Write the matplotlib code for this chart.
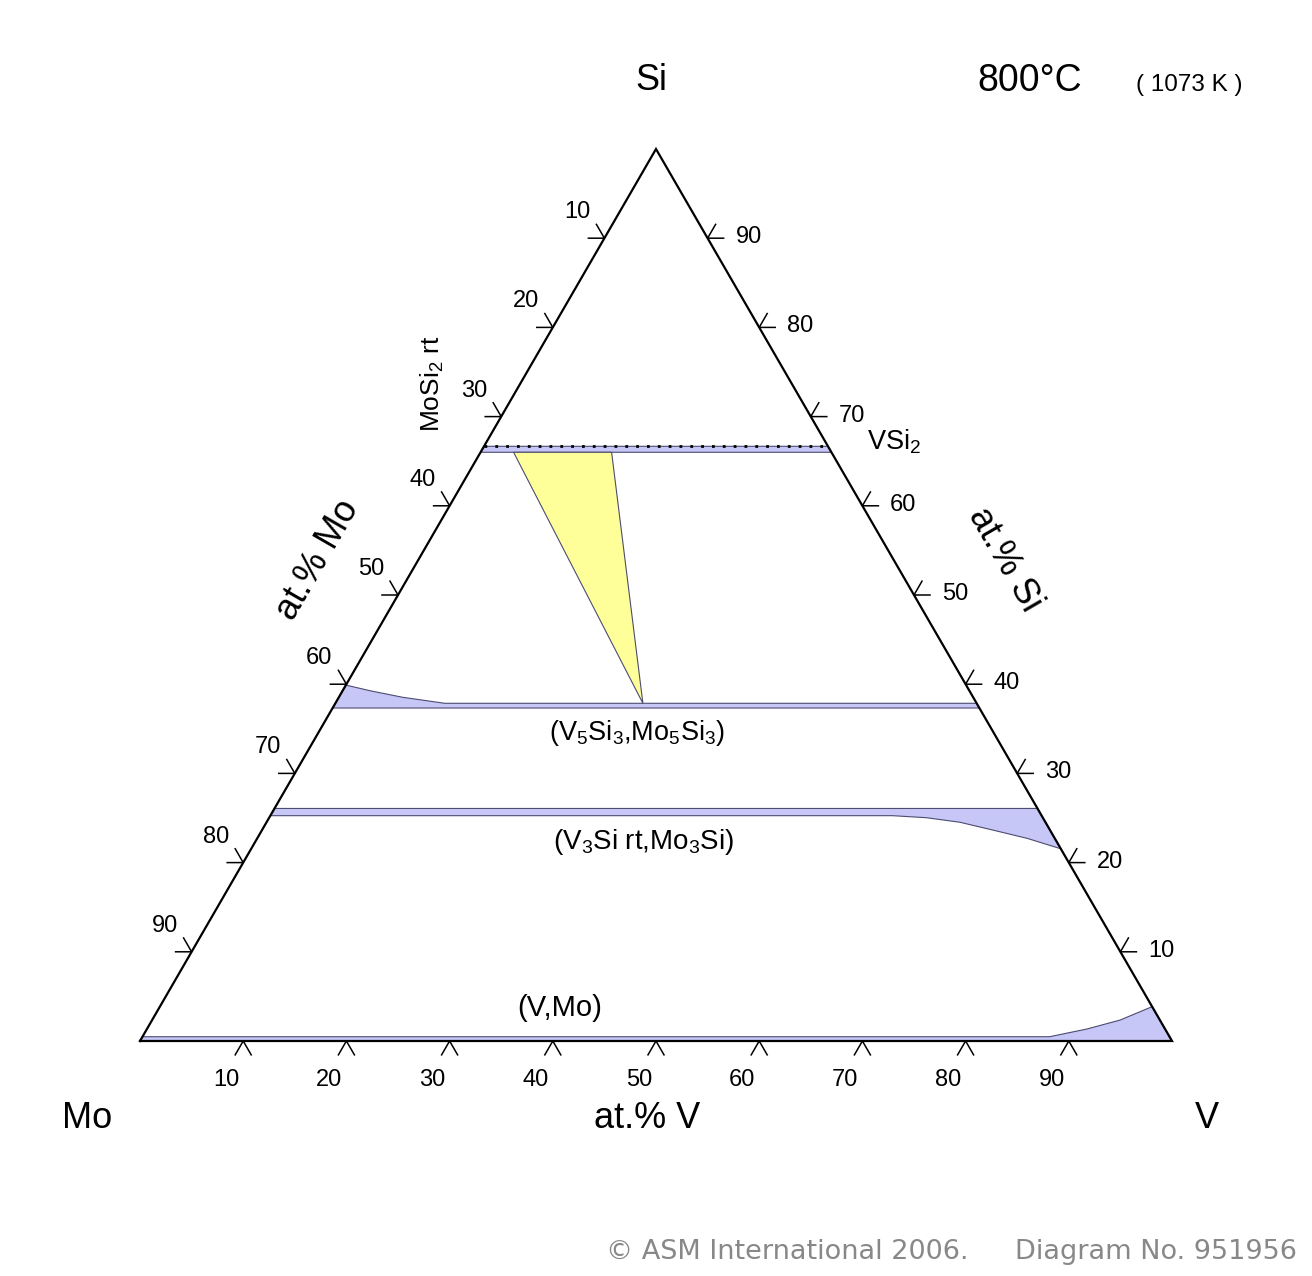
import numpy as np
import matplotlib
matplotlib.use("Agg")
import matplotlib.pyplot as plt
from matplotlib.patches import Polygon

plt.rcParams['font.family'] = ['Liberation Sans', 'DejaVu Sans']
plt.rcParams['mathtext.fontset'] = 'custom'
plt.rcParams['mathtext.rm'] = 'Liberation Sans'
plt.rcParams['mathtext.it'] = 'Liberation Sans'

# ---------------- data (at.% V, at.% Si) ----------------
tick_values = [10, 20, 30, 40, 50, 60, 70, 80, 90]

bcc_V = [0, 87.9, 91.1, 93.8, 96.15, 100, 0]
bcc_Si = [0.48, 0.48, 1.35, 2.35, 3.85, 0, 0]

m3si_V = [0, 73.93, 78.45, 74.6, 70.8, 67.2, 63.7, 60.3, 0]
m3si_Si = [26.07, 26.07, 21.55, 22.72, 23.65, 24.52, 25.03, 25.26, 25.26]

m5si3_V = [0, 2.65, 6.2, 10.6, 62.14, 62.67, 0]
m5si3_Si = [39.9, 39.27, 38.53, 37.86, 37.86, 37.33, 37.33]

msi2_V = [0, 33.33, 34.0, 0]
msi2_Si = [66.67, 66.67, 66.0, 66.0]

three_V = [3.2, 12.7, 29.8]
three_Si = [66.0, 66.0, 37.86]

dotted_V = [0, 33.33]
dotted_Si = [66.67, 66.67]

# ---------------- geometry ----------------
X0, Y0, W, H = 140.0, 1041.0, 1032.0, 892.0


def P(v, si):
    v = np.asarray(v, float)
    si = np.asarray(si, float)
    return X0 + W * (v + si / 2) / 100.0, Y0 - H * si / 100.0


fig = plt.figure(figsize=(13.12, 12.76), dpi=100)
ax = fig.add_axes([0, 0, 1, 1])
ax.set_xlim(0, 1312)
ax.set_ylim(1276, 0)
ax.axis('off')

blue = '#c6c6f7'
edge = '#4c4c70'


def poly(vs, sis, fc, z=2):
    x, y = P(vs, sis)
    ax.add_patch(Polygon(np.column_stack([x, y]), closed=True, facecolor=fc,
                         edgecolor=edge, lw=0.8, zorder=z))


poly(bcc_V, bcc_Si, blue)
poly(m3si_V, m3si_Si, blue)
poly(m5si3_V, m5si3_Si, blue)
poly(msi2_V, msi2_Si, blue)
poly(three_V, three_Si, '#ffff99')

x, y = P(dotted_V, dotted_Si)
ax.plot(x, y, color='black', lw=2.0, linestyle=(0, (1, 2.9)), zorder=3)

# triangle
x, y = P([0, 100, 0, 0], [0, 0, 100, 0])
ax.plot(x, y, color='black', lw=1.6, zorder=4, solid_joinstyle='miter')

L = 16.0
c60, s60 = 0.5, np.sqrt(3) / 2
for t in tick_values:
    # base ticks (at.% V)
    bx, by = P(t, 0)
    ax.plot([bx - L * c60, bx, bx + L * c60], [by + L * s60, by, by + L * s60],
            color='black', lw=1.1, zorder=4)
    ax.text(bx - 17, by + 39, str(t), ha='center', va='center', fontsize=17)
    # left side ticks (at.% Mo)
    lx, ly = P(0, 100 - t)
    ax.plot([lx - L, lx, lx - L * c60], [ly, ly, ly - L * s60],
            color='black', lw=1.1, zorder=4)
    ax.text(lx - 27, ly - 26, str(t), ha='center', va='center', fontsize=17)
    # right side ticks (at.% Si)
    rx, ry = P(100 - t, t)
    ax.plot([rx + L, rx, rx + L * c60], [ry, ry, ry - L * s60],
            color='black', lw=1.1, zorder=4)
    ax.text(rx + 41, ry - 1, str(t), ha='center', va='center', fontsize=17)

# corner / axis labels
ax.text(651, 81, 'Si', ha='center', va='center', fontsize=26)
ax.text(87, 1119, 'Mo', ha='center', va='center', fontsize=26)
ax.text(1207, 1119, 'V', ha='center', va='center', fontsize=26)
ax.text(647, 1119, 'at.% V', ha='center', va='center', fontsize=26)
ax.text(318, 560, 'at.% Mo', ha='center', va='center', fontsize=26, rotation=60,
        rotation_mode='anchor')
ax.text(1005, 560, 'at.% Si', ha='center', va='center', fontsize=26, rotation=-60,
        rotation_mode='anchor')
ax.text(1030, 81, '800°C', ha='center', va='center', fontsize=27)
ax.text(1189, 85, '( 1073 K )', ha='center', va='center', fontsize=17.5)

# phase labels
ax.text(637, 733, r'(V$_5$Si$_3$,Mo$_5$Si$_3$)', ha='center', va='center', fontsize=19.5)
ax.text(644, 842, r'(V$_3$Si rt,Mo$_3$Si)', ha='center', va='center', fontsize=20)
ax.text(560, 1008, '(V,Mo)', ha='center', va='center', fontsize=21)
ax.text(894, 442, r'VSi$_2$', ha='center', va='center', fontsize=19.5)
ax.text(432, 384, r'MoSi$_2$ rt', ha='center', va='center', fontsize=19, rotation=90)

# copyright
ax.text(968, 1252, '© ASM International 2006.', ha='right', va='center',
        fontsize=19.5, color='#888888', family='DejaVu Sans')
ax.text(1297, 1252, 'Diagram No. 951956', ha='right', va='center',
        fontsize=19.5, color='#888888', family='DejaVu Sans')

fig.savefig('out.png', dpi=100)
